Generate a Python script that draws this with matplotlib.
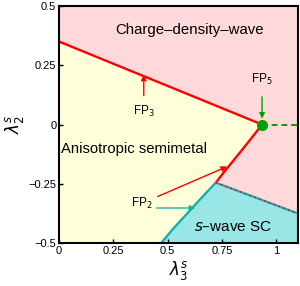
import matplotlib.pyplot as plt

plt.rcParams['font.family'] = ['Liberation Sans', 'DejaVu Sans']
plt.rcParams['mathtext.fontset'] = 'dejavusans'

# phase boundaries (lambda3, lambda2)
cdw_x = [0.0, 0.935]
cdw_y = [0.35, 0.0]
red_x = [0.935, 0.905, 0.875, 0.84, 0.80, 0.76, 0.722]
red_y = [0.0, -0.035, -0.07, -0.11, -0.155, -0.20, -0.245]
teal_x = [0.722, 0.67, 0.62, 0.57, 0.52, 0.47]
teal_y = [-0.245, -0.295, -0.345, -0.395, -0.445, -0.5]
dash_x = [0.722, 1.1]
dash_y = [-0.245, -0.375]
fp5 = (0.935, 0.0)

xticks = [0, 0.25, 0.5, 0.75, 1]
xlabels = ["0", "0.25", "0.5", "0.75", "1"]
yticks = [-0.5, -0.25, 0, 0.25, 0.5]
ylabels = ["\u22120.5", "\u22120.25", "0", "0.25", "0.5"]

pink = "#ffd9dc"
yellow = "#ffffd9"
cyan = "#99e6e6"
red = "#ff0000"
teal = "#1aadad"
green = "#00a000"

fig = plt.figure(figsize=(3.0, 2.86), dpi=100)
ax = fig.add_axes([0.197, 0.150, 0.796, 0.829])
ax.set_facecolor(pink)

# yellow semimetal region
yx = [0.0, 0.0] + cdw_x[1:] + red_x[1:] + teal_x[1:]
yy = [-0.5, 0.35] + cdw_y[1:] + red_y[1:] + teal_y[1:]
ax.fill(yx, yy, color=yellow, lw=0)
# s-wave SC region
ax.fill(teal_x + [1.1, 1.1], teal_y + [-0.5, dash_y[1]], color=cyan, lw=0)

ax.plot(cdw_x, cdw_y, color=red, lw=1.7)
ax.plot(red_x, red_y, color=red, lw=1.7)
ax.plot(teal_x, teal_y, color=teal, lw=1.7)
ax.plot(dash_x, dash_y, color=teal, lw=1.6)
ax.plot(dash_x, dash_y, color=red, lw=1.0, ls=(0, (1.2, 2.5)))
ax.plot([fp5[0], 1.1], [0, 0], color=green, lw=1.4, ls=(0, (3, 2)))
ax.plot(*fp5, "o", color=green, ms=7, zorder=5)

ax.text(0.60, 0.40, "Charge\u2013density\u2013wave", fontsize=10.8, ha="center", va="center")
ax.text(0.01, -0.105, "Anisotropic semimetal", fontsize=10.7, ha="left", va="center")
ax.text(0.80, -0.43, "$\\it{s}$\u2013wave SC", fontsize=11, ha="center", va="center")

ax.annotate("FP$_3$", xy=(0.39, 0.21), xytext=(0.39, 0.055), fontsize=8.5,
            ha="center", va="center",
            arrowprops=dict(arrowstyle="-|>", color=red, lw=1, shrinkA=4, shrinkB=0,
                            mutation_scale=8))
ax.annotate("FP$_5$", xy=(0.935, 0.025), xytext=(0.935, 0.19), fontsize=8.5,
            ha="center", va="center",
            arrowprops=dict(arrowstyle="-|>", color=green, lw=1, shrinkA=5, shrinkB=0,
                            mutation_scale=8))
ax.annotate("FP$_2$", xy=(0.774, -0.177), xytext=(0.38, -0.333), fontsize=8.5,
            ha="center", va="center",
            arrowprops=dict(arrowstyle="-|>", color=red, lw=1, shrinkA=2, shrinkB=0,
                            mutation_scale=8))
ax.annotate("", xy=(0.627, -0.352), xytext=(0.45, -0.352),
            arrowprops=dict(arrowstyle="-|>", color=teal, lw=1, shrinkA=0, shrinkB=0,
                            mutation_scale=8))

ax.set_xlim(0, 1.1)
ax.set_ylim(-0.5, 0.5)
ax.set_xticks(xticks)
ax.set_xticklabels(xlabels)
ax.set_yticks(yticks)
ax.set_yticklabels(ylabels)
ax.tick_params(direction="in", length=3, width=1, labelsize=8, pad=2)
for s in ax.spines.values():
    s.set_linewidth(1.5)
ax.set_xlabel("$\\lambda_3^s$", fontsize=12, labelpad=2)
ax.set_ylabel("$\\lambda_2^s$", fontsize=12, labelpad=2)

fig.savefig("out.png", dpi=100)
